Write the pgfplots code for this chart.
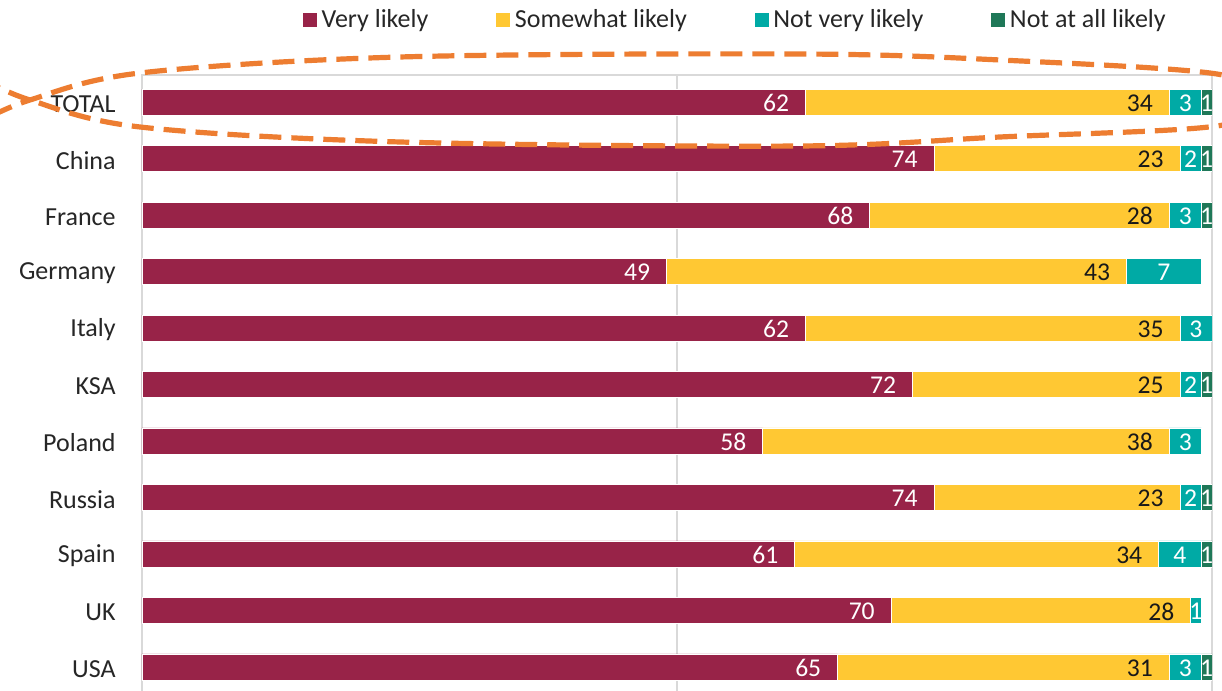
\documentclass[border=0pt]{standalone}
\usepackage{pgfplots}
\usepackage{pgfplotstable}
\pgfplotsset{compat=1.18}
\usepackage{fontspec}
\setmainfont{Carlito}
\definecolor{cVL}{RGB}{152,35,72}
\definecolor{cSL}{RGB}{255,200,51}
\definecolor{cNV}{RGB}{0,170,165}
\definecolor{cNA}{RGB}{31,120,88}
\definecolor{cOr}{RGB}{237,125,49}
\definecolor{cAx}{RGB}{217,217,217}
\pgfplotstableread{
idx vl sl nv na
0 62 34 3 1
1 74 23 2 1
2 68 28 3 1
3 49 43 7 0
4 62 35 3 0
5 72 25 2 1
6 58 38 3 0
7 74 23 2 1
8 61 34 4 1
9 70 28 1 0
10 65 31 3 1
}\data
\begin{document}
\begin{tikzpicture}
\begin{scope}
\clip (0,0) rectangle (611pt,345.5pt);
\begin{axis}[
  at={(71pt,-1.5pt)}, anchor=south west,
  scale only axis, width=535pt, height=309.5pt,
  xbar stacked, bar width=13pt,
  xmin=0, xmax=100, ymin=-0.48, ymax=10.48, y dir=reverse,
  ytick={0,...,10},
  yticklabels={TOTAL,China,France,Germany,Italy,KSA,Poland,Russia,Spain,UK,USA},
  yticklabel style={font=\fontsize{13}{15}\selectfont, text=black!85, inner sep=0pt, xshift=-13pt, yshift=-1pt},
  xtick={50}, xticklabels={},
  xmajorgrids, grid style={cAx, line width=0.8pt},
  axis line style={cAx, line width=0.8pt},
  major tick length=0pt, tick style={draw=none},
  legend columns=4,
  legend style={draw=none, fill=none, at={(0.555,1.089)}, anchor=center,
    font=\fontsize{13}{15}\selectfont, text=black!85,
    /tikz/every even column/.append style={column sep=31.5pt}},
  legend image code/.code={\fill[#1] (0pt,-3.75pt) rectangle (7.5pt,3.75pt);},
  every node near coord/.append style={font=\fontsize{12.8}{14}\selectfont, inner sep=0pt, yshift=-0.5pt},
]
\addplot[fill=cVL, draw=white, line width=0.3pt,
  visualization depends on={\thisrow{vl} \as \rx},
  nodes near coords={\pgfmathtruncatemacro\v{\rx}\ifnum\v>0 \v\fi},
  every node near coord/.append style={anchor=east, xshift=2.675pt*\rx-8pt, text=white}]
  table[x=vl, y=idx]{\data};
\addlegendentry{Very likely}
\addplot[fill=cSL, draw=white, line width=0.3pt,
  visualization depends on={\thisrow{sl} \as \rx},
  nodes near coords={\pgfmathtruncatemacro\v{\rx}\ifnum\v>0 \v\fi},
  every node near coord/.append style={anchor=east, xshift=2.675pt*\rx-8pt, text=black!90}]
  table[x=sl, y=idx]{\data};
\addlegendentry{Somewhat likely}
\addplot[fill=cNV, draw=white, line width=0.3pt,
  visualization depends on={\thisrow{nv} \as \rx},
  nodes near coords={\pgfmathtruncatemacro\v{\rx}\ifnum\v>0 \v\fi},
  every node near coord/.append style={anchor=center, text=white}]
  table[x=nv, y=idx]{\data};
\addlegendentry{Not very likely}
\addplot[fill=cNA, draw=white, line width=0.3pt,
  visualization depends on={\thisrow{na} \as \rx},
  nodes near coords={\pgfmathtruncatemacro\v{\rx}\ifnum\v>0 \v\fi},
  every node near coord/.append style={anchor=center, text=white}]
  table[x=na, y=idx]{\data};
\addlegendentry{Not at all likely}
\end{axis}
\begin{scope}[shift={(0pt,345.5pt)}, x=0.5pt, y=-0.5pt]
\draw[cOr, line width=2.6pt, dash pattern=on 11pt off 5pt, smooth, tension=0.55]
  plot coordinates {(-20,78) (30,100) (140,127) (400,142) (800,146) (1000,137) (1217,126) (1255,100) (1217,74) (1000,60) (800,54) (400,57) (140,73) (30,100) (-20,122)};
\end{scope}
\end{scope}
\pgfresetboundingbox
\useasboundingbox (0,0) rectangle (611pt,345.5pt);
\end{tikzpicture}
\end{document}
